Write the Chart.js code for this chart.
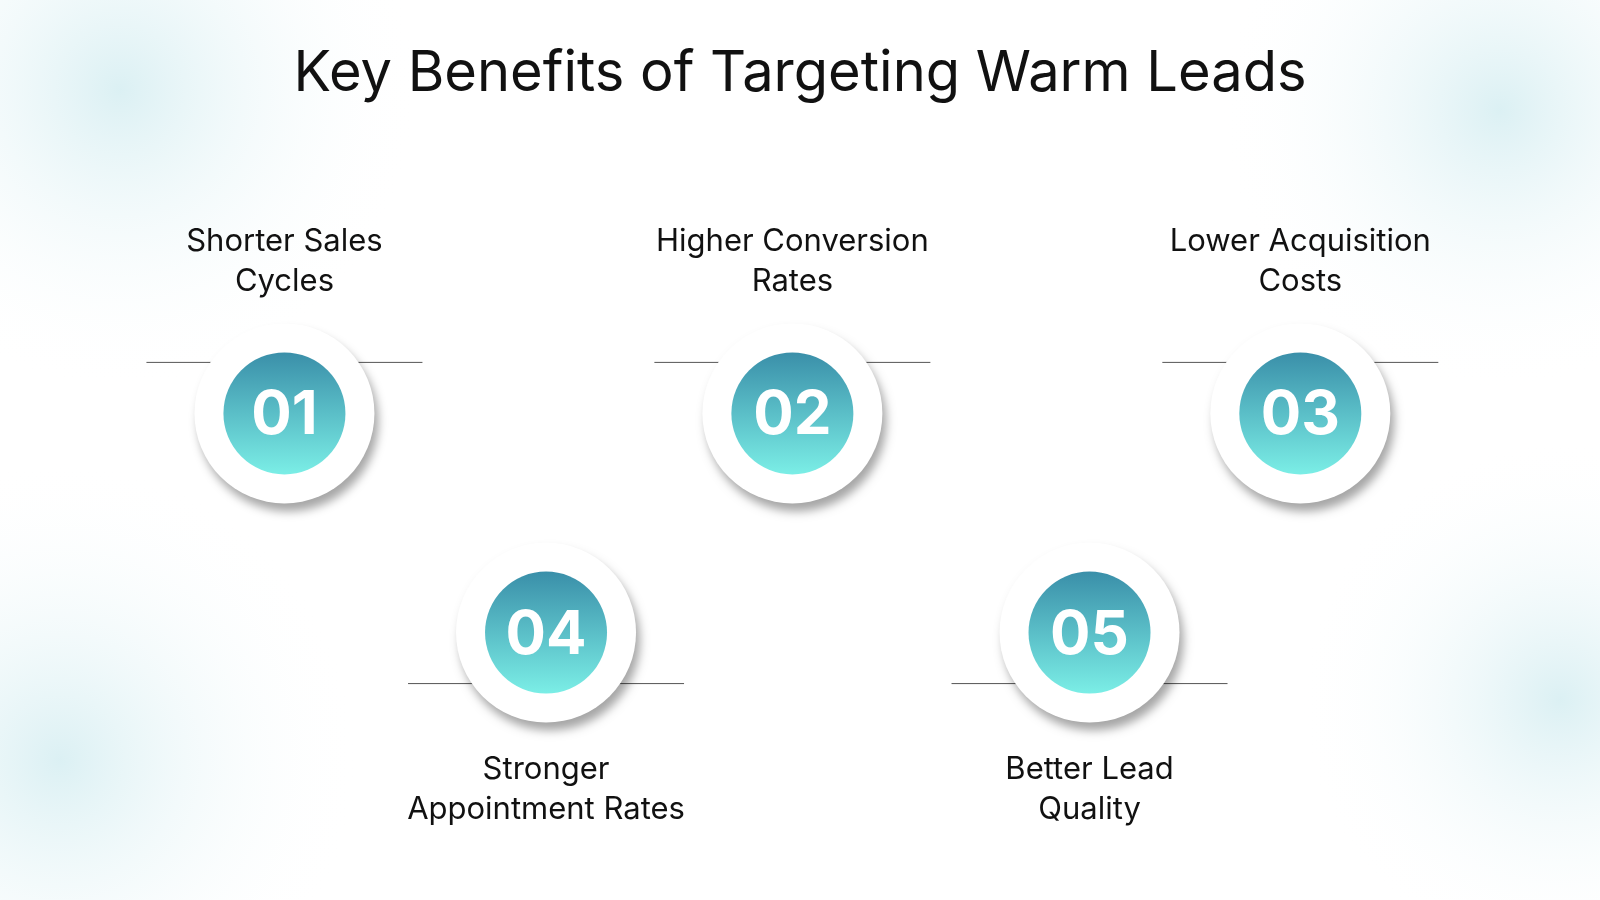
<!DOCTYPE html>
<html><head><meta charset="utf-8">
<script src="https://cdn.jsdelivr.net/npm/chart.js@4/dist/chart.umd.min.js"></script>
<style>html,body{margin:0;padding:0;background:#fff}#w{width:1600px;height:900px}</style>
</head><body><div id="w"><canvas id="c"></canvas></div>
<script>
const title = "Key Benefits of Targeting Warm Leads";
const numbers = ["01","02","03","04","05"];
const labels = [["Shorter Sales","Cycles"],["Higher Conversion","Rates"],["Lower Acquisition","Costs"],["Stronger","Appointment Rates"],["Better Lead","Quality"]];
const columns = [1, 3, 5, 2.03, 4.17];
const rows = [1, 1, 1, 2, 2];

const deco = {
  id:'deco',
  beforeDraw(ch){
    const c = ch.ctx, W = ch.width, H = ch.height;
    c.save();
    c.fillStyle='#fff'; c.fillRect(0,0,W,H);
    [[120,90,300],[1500,110,280],[60,760,300],[1560,700,260]].forEach(([x,y,r])=>{
      const g=c.createRadialGradient(x,y,0,x,y,r);
      g.addColorStop(0,'rgba(190,228,234,0.55)'); g.addColorStop(1,'rgba(255,255,255,0)');
      c.fillStyle=g; c.fillRect(0,0,W,H);
    });
    c.restore();
  },
  afterDatasetsDraw(ch){
    const c = ch.ctx;
    c.save();
    c.fillStyle='#111'; c.textAlign='center'; c.textBaseline='middle';
    c.font='400 56px Inter, "Noto Sans", sans-serif';
    c.fillText(title, 800, 74);
    const meta = ch.getDatasetMeta(0);
    meta.data.forEach((el,i)=>{
      const x=el.x, y=el.y, top = rows[i]===1;
      const ly = y + (top? -51 : 51);
      c.strokeStyle='#555'; c.lineWidth=1;
      c.beginPath(); c.moveTo(x-138,ly); c.lineTo(x+138,ly); c.stroke();
      c.save();
      c.shadowColor='rgba(0,0,0,0.35)'; c.shadowBlur=10; c.shadowOffsetX=4; c.shadowOffsetY=8;
      c.fillStyle='#fff'; c.beginPath(); c.arc(x,y,90,0,Math.PI*2); c.fill();
      c.restore();
      const g=c.createLinearGradient(0,y-61,0,y+61);
      g.addColorStop(0,'#3a8fa9'); g.addColorStop(1,'#7beee6');
      c.fillStyle=g; c.beginPath(); c.arc(x,y,61,0,Math.PI*2); c.fill();
      c.fillStyle='#fff'; c.font='700 60px Inter, "Noto Sans", sans-serif';
      c.fillText(numbers[i], x, y+3);
      c.fillStyle='#111'; c.font='400 31px Inter, "Noto Sans", sans-serif';
      const base = top ? y-172 : y+137;
      labels[i].forEach((t,k)=>c.fillText(t, x, base+k*40));
    });
    c.restore();
  }
};
new Chart(document.getElementById('c'),{
  type:'scatter',
  data:{datasets:[{data:columns.map((x,i)=>({x, y:rows[i]})), pointRadius:0, pointHoverRadius:0}]},
  options:{responsive:true,maintainAspectRatio:false,animation:false,
    layout:{padding:0},
    plugins:{legend:{display:false},tooltip:{enabled:false}},
    scales:{
      x:{display:false,min:-0.12,max:6.18},
      y:{display:false,reverse:true,min:-0.886,max:3.22}
    }},
  plugins:[deco]
});
</script></body></html>
